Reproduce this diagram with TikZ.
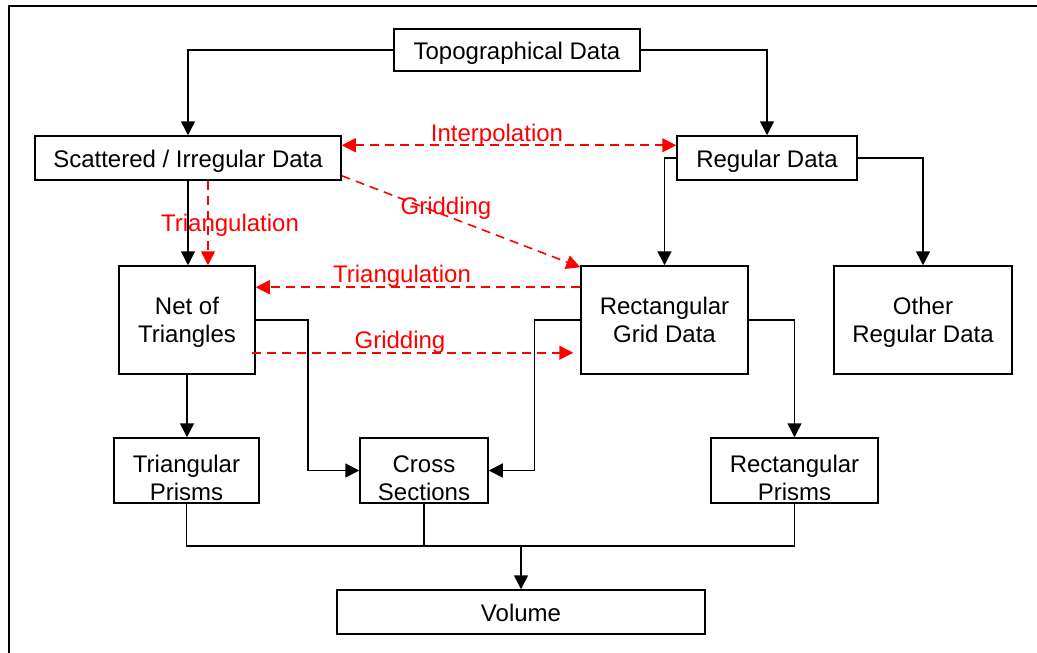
\documentclass[tikz,border=0pt]{standalone}
\usepackage{fontspec}
\setmainfont{Liberation Sans}
\usepackage{tikz}
\usetikzlibrary{arrows.meta, positioning, calc}

\tikzset{
  databox/.style={draw=black, line width=1.5pt, inner sep=0pt, align=center, fill=white},
  oneline/.style={text height=20pt, text depth=1pt},
  twoline/.style={text height=46pt, text depth=2pt},
  lowtwoline/.style={text height=61pt, text depth=2pt},
  flow/.style={draw=black, line width=1.5pt},
  flowarrow/.style={flow, -{Triangle[length=14pt,width=14pt]}},
  redarrow/.style={red, line width=1.6pt, dash pattern=on 9pt off 6pt, -{Triangle[length=14pt,width=14pt]}},
  redlabel/.style={text=red, inner sep=0pt}
}

\begin{document}
\begin{tikzpicture}[x=1pt, y=-1pt, font=\fontsize{24}{28}\selectfont]
\useasboundingbox (0,0) rectangle (1037,653);
\draw [black, line width=2pt] (9,653) -- (9,6) -- (1037,6);

\node [databox, oneline, minimum width=246pt, minimum height=42pt] (topo) at (517,50) {Topographical Data};
\node [databox, oneline, minimum width=306pt, minimum height=44pt] (scat) at (188,158) {Scattered / Irregular Data};
\node [databox, oneline, minimum width=180pt, minimum height=44pt] (reg) at (767,158) {Regular Data};
\node [databox, twoline, minimum width=136pt, minimum height=108pt] (net) at (187,320) {Net of\\Triangles};
\node [databox, twoline, minimum width=167pt, minimum height=108pt] (grid) at (664.5,320) {Rectangular\\Grid Data};
\node [databox, twoline, minimum width=178pt, minimum height=108pt] (other) at (923,320) {Other\\Regular Data};
\node [databox, lowtwoline, minimum width=145pt, minimum height=65pt] (tri) at (186.5,470.5) {Triangular\\Prisms};
\node [databox, lowtwoline, minimum width=128pt, minimum height=65pt] (cross) at (424,470.5) {Cross\\Sections};
\node [databox, lowtwoline, minimum width=167pt, minimum height=65pt] (rprism) at (794.5,470.5) {Rectangular\\Prisms};
\node [databox, oneline, minimum width=368pt, minimum height=44pt] (vol) at (521,612) {Volume};

% black flow lines
\draw [flowarrow] (topo.west) -| (scat.north);
\draw [flowarrow] (topo.east) -| (reg.north);
\draw [flowarrow] (scat.south) -- (scat.south |- net.north);
\draw [flowarrow] (reg.west) -| (grid.north);
\draw [flowarrow] (reg.east) -| (other.north);
\draw [flowarrow] (net.south) -- (net.south |- tri.north);
\draw [flowarrow] (net.east) -- ++(52,0) |- (cross.west);
\draw [flowarrow] (grid.west) -- ++(-46,0) |- (cross.east);
\draw [flowarrow] (grid.east) -| (rprism.north);

\coordinate (join) at (521,546);
\draw [flow] (tri.south) |- (rprism.south |- join) -- (rprism.south);
\draw [flow] (cross.south) -- (cross.south |- join);
\draw [flowarrow] (join) -- (vol.north);

% red dashed methods
\draw [redarrow, {Triangle[length=14pt,width=14pt]}-{Triangle[length=14pt,width=14pt]}] ([yshift=-10pt]scat.north east) -- ([yshift=-10pt]reg.north west);
\node [redlabel] (interp) at (497,135) {Interpolation};
\draw [redarrow] ([xshift=20pt]scat.south) -- ([xshift=20pt]scat.south |- net.north);
\node [redlabel] (tri1) at (230,225) {Triangulation};
\draw [redarrow] ([yshift=5pt]scat.south east) -- ([yshift=-2pt]grid.north west);
\node [redlabel] (grid1) at (446,208) {Gridding};
\draw [redarrow] ([yshift=-22pt]grid.north west) -- ([yshift=-22pt]net.north east);
\node [redlabel] (tri2) at (402,276) {Triangulation};
\draw [redarrow, shorten >=7pt] ([yshift=22pt,xshift=-4pt]net.south east) -- ([yshift=22pt]grid.south west);
\node [redlabel] (grid2) at (400,342) {Gridding};
\end{tikzpicture}
\end{document}
